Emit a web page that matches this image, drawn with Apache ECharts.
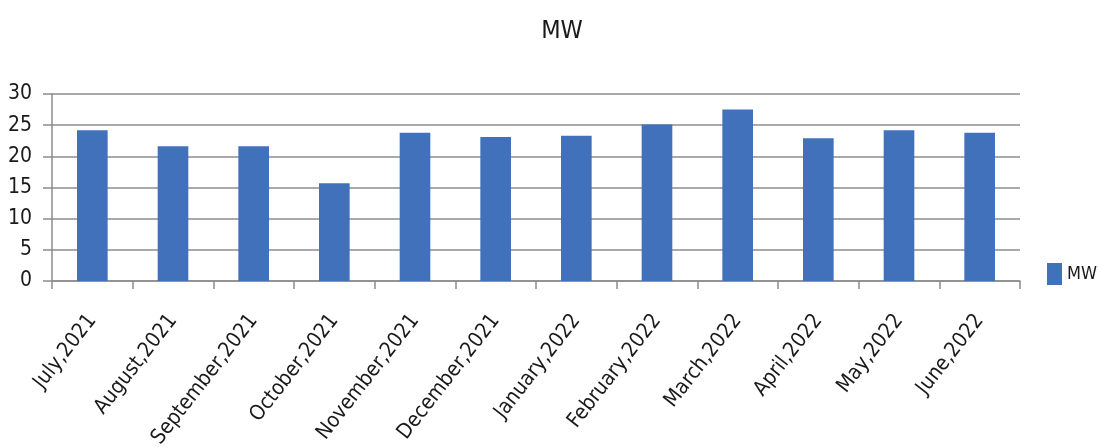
<!DOCTYPE html>
<html>
<head>
<meta charset="utf-8">
<script src="https://cdn.jsdelivr.net/npm/echarts@6/dist/echarts.min.js"></script>
<style>
  html, body { margin: 0; padding: 0; background: #ffffff; }
  #chart { width: 1098px; height: 447px; }
</style>
</head>
<body>
<div id="chart"></div>
<script>
// Monthly capacity (MW), July 2021 – June 2022
const months = [
  'July,2021', 'August,2021', 'September,2021', 'October,2021',
  'November,2021', 'December,2021', 'January,2022', 'February,2022',
  'March,2022', 'April,2022', 'May,2022', 'June,2022'
];
const mwValues = [24.2, 21.6, 21.6, 15.7, 23.8, 23.1, 23.3, 25.1, 27.5, 22.9, 24.2, 23.8];
const yTicks = [0, 5, 10, 15, 20, 25, 30];

const FONT = '"Liberation Sans Narrow", "DejaVu Sans Condensed", "Open Sans", sans-serif';
const BAR_BLUE = '#4171bb';
const GRID_GREY = '#8c8c8c';
const TEXT = '#1a1a1a';

const chart = echarts.init(document.getElementById('chart'), null, { renderer: 'canvas' });

chart.setOption({
  backgroundColor: '#ffffff',
  animation: false,
  title: {
    text: 'MW',
    left: 557,
    top: 14,
    textAlign: 'center',
    textStyle: { fontFamily: FONT, fontSize: 25, fontWeight: 'normal', color: TEXT }
  },
  legend: {
    data: ['MW'],
    orient: 'vertical',
    left: 1042,
    top: 258,
    itemWidth: 15,
    itemHeight: 22,
    itemGap: 4,
    icon: 'rect',
    textStyle: { fontFamily: FONT, fontSize: 18, color: TEXT }
  },
  grid: {
    left: 52, right: 78, top: 94, bottom: 166,
    containLabel: false,
    outerBoundsMode: 'none'
  },
  xAxis: {
    type: 'category',
    data: months,
    axisLine: { show: true, lineStyle: { color: GRID_GREY, width: 1.5 } },
    axisTick: { show: true, alignWithLabel: false, length: 8, lineStyle: { color: GRID_GREY, width: 1.5 } },
    axisLabel: {
      interval: 0,
      rotate: 52,
      margin: 36,
      fontFamily: FONT,
      fontSize: 21,
      color: TEXT
    }
  },
  yAxis: {
    type: 'value',
    min: 0,
    max: 30,
    interval: 5,
    axisLine: { show: true, lineStyle: { color: GRID_GREY, width: 1.5 } },
    axisTick: { show: true, inside: false, length: 9, lineStyle: { color: GRID_GREY, width: 1.5 } },
    axisLabel: {
      margin: 20,
      fontFamily: FONT,
      fontSize: 21,
      color: TEXT,
      formatter: function (v) { return yTicks.indexOf(v) >= 0 ? String(v) : ''; }
    },
    splitLine: { show: true, lineStyle: { color: GRID_GREY, width: 1.5 } }
  },
  series: [{
    name: 'MW',
    type: 'bar',
    data: mwValues,
    barWidth: '38%',
    itemStyle: { color: BAR_BLUE }
  }]
});
</script>
</body>
</html>
